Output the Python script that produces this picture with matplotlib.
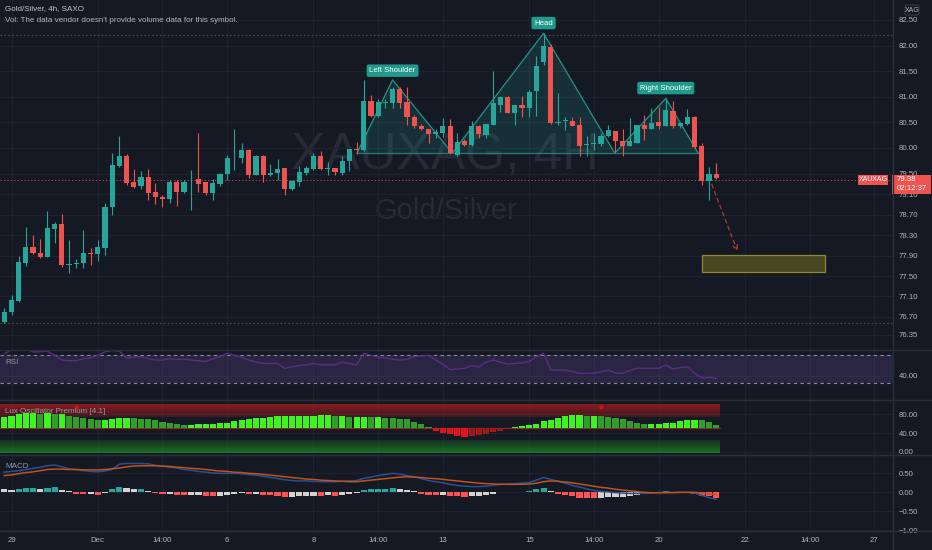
import matplotlib
matplotlib.use("Agg")
import matplotlib.pyplot as plt
from matplotlib.patches import Rectangle, Polygon, FancyBboxPatch
from matplotlib import font_manager
import numpy as np

# ---------------- data ----------------
opens = [76.60, 76.79, 77.02, 77.76, 78.07, 77.95, 77.88, 78.41, 78.51, 77.72,
         77.73, 77.75, 77.95, 77.93, 78.05, 78.85, 79.64, 79.84, 79.34, 79.25,
         79.44, 79.14, 79.05, 79.00, 79.33, 79.15, 79.33, 79.39, 79.33, 79.13,
         79.30, 79.49, 79.80, 79.80, 79.96, 79.47, 79.84, 79.47, 79.51, 79.60,
         79.20, 79.34, 79.52, 79.59, 79.84, 79.58, 79.60, 79.52, 79.75, 79.99,
         79.96, 80.92, 80.62, 80.87, 80.87, 81.16, 80.90, 80.60, 80.43, 80.38,
         80.27, 80.30, 80.43, 79.86, 80.13, 80.05, 80.43, 80.25, 80.45, 80.84,
         81.00, 80.69, 80.83, 80.79, 81.11, 81.67, 81.98, 80.48, 80.53, 80.53,
         80.45, 80.06, 80.07, 80.08, 80.24, 80.34, 80.14, 80.04, 80.10, 80.45,
         80.38, 80.51, 80.43, 80.73, 80.42, 80.47, 80.61, 80.03, 79.36, 79.49]
highs = [76.87, 77.13, 77.90, 78.45, 78.30, 78.22, 78.77, 78.56, 78.71, 78.20,
         77.83, 78.40, 78.05, 78.20, 78.93, 79.90, 80.23, 79.88, 79.58, 79.56,
         79.59, 79.31, 79.08, 79.38, 79.38, 79.38, 79.57, 80.29, 79.33, 79.39,
         79.52, 79.86, 80.38, 80.09, 79.99, 79.86, 79.86, 79.69, 79.79, 79.60,
         79.37, 79.65, 79.65, 79.90, 79.95, 79.73, 79.60, 79.84, 79.99, 80.12,
         81.32, 81.04, 80.95, 80.95, 81.19, 81.19, 81.19, 80.65, 80.47, 80.38,
         80.38, 80.58, 80.56, 80.29, 80.17, 80.53, 80.45, 80.47, 81.51, 81.02,
         81.02, 80.84, 81.02, 81.13, 81.80, 82.24, 82.04, 81.07, 80.60, 80.60,
         80.61, 80.23, 80.29, 80.29, 80.45, 80.34, 80.38, 80.58, 80.45, 80.64,
         80.79, 80.81, 80.95, 80.92, 80.48, 80.76, 80.62, 80.09, 79.62, 79.71]
lows = [76.58, 76.73, 77.00, 77.70, 77.93, 77.85, 77.88, 78.14, 77.68, 77.55,
        77.65, 77.65, 77.71, 77.80, 77.91, 78.69, 79.62, 79.28, 79.21, 79.19,
        78.99, 78.91, 78.85, 78.92, 78.87, 79.13, 78.78, 79.15, 79.08, 78.98,
        79.26, 79.38, 79.57, 79.70, 79.41, 79.47, 79.34, 79.45, 79.38, 79.08,
        79.18, 79.26, 79.47, 79.57, 79.57, 79.47, 79.47, 79.47, 79.56, 79.88,
        79.95, 80.61, 80.60, 80.78, 80.78, 80.78, 80.45, 80.40, 80.35, 80.09,
        80.19, 80.21, 79.88, 79.84, 80.03, 80.03, 80.19, 80.19, 80.44, 80.71,
        80.68, 80.45, 80.61, 80.61, 80.62, 81.62, 80.47, 80.45, 80.35, 80.42,
        79.84, 79.84, 79.97, 80.03, 80.22, 79.93, 79.84, 80.03, 80.09, 80.16,
        80.37, 80.37, 80.42, 80.40, 80.40, 80.45, 80.00, 79.28, 78.98, 79.39]
closes = [76.80, 77.03, 77.77, 78.06, 77.94, 77.87, 78.43, 78.51, 77.72, 77.74,
          77.76, 77.94, 77.92, 78.07, 78.85, 79.66, 79.84, 79.31, 79.23, 79.44,
          79.12, 79.05, 79.00, 79.33, 79.14, 79.33, 79.34, 79.30, 79.12, 79.31,
          79.49, 79.81, 79.81, 79.97, 79.47, 79.85, 79.47, 79.52, 79.59, 79.20,
          79.36, 79.54, 79.60, 79.85, 79.58, 79.60, 79.53, 79.75, 79.99, 79.96,
          80.91, 80.63, 80.89, 80.90, 81.15, 80.87, 80.60, 80.42, 80.38, 80.27,
          80.32, 80.43, 79.90, 80.12, 80.05, 80.42, 80.27, 80.47, 80.87, 80.99,
          80.69, 80.83, 80.79, 81.10, 81.60, 82.00, 80.48, 80.50, 80.54, 80.43,
          80.04, 80.08, 80.09, 80.24, 80.35, 80.14, 80.04, 80.14, 80.45, 80.37,
          80.49, 80.43, 80.74, 80.42, 80.48, 80.61, 80.01, 79.36, 79.49, 79.41]
current_price = 79.38

rsi = [72, 78, 80, 80, 75, 75, 76, 70, 63, 62,
       62, 65, 66, 70, 75, 77, 76, 66, 67, 68,
       65, 63, 63, 65, 64, 64, 63, 62, 61, 65,
       68, 73, 70, 67, 63, 60, 58, 58, 58, 51,
       53, 55, 56, 58, 56, 56, 56, 60, 58, 56,
       73, 70, 67, 66, 64, 63, 64, 68, 69, 70,
       63, 57, 49, 50, 51, 55, 53, 60, 63, 60,
       57, 58, 59, 61, 68, 73, 48.5, 48.5, 48.5, 46,
       43.7, 43.7, 43.7, 46, 48.5, 44, 43.7, 48, 51, 51,
       51, 51, 55.8, 50, 52, 53, 44, 37, 37.8, 36.4]

lux = [75, 77, 80, 82, 82, 80.5, 82, 80.5, 80.5, 77,
       75, 71, 70, 67, 67, 70, 72.6, 73, 72, 70.6,
       70, 67, 63, 60.7, 58.5, 57, 57.8, 59, 59, 59,
       60.7, 62, 65, 67, 70, 71.4, 72.6, 74, 76, 76,
       76, 76, 76, 76, 77.5, 77.5, 76, 76, 75, 75,
       75, 74, 74, 73, 72.6, 70.5, 69, 64, 58.5, 53.5,
       45, 39.7, 37.6, 34.6, 32.5, 34.6, 36, 39, 42, 45,
       48, 52.4, 54.6, 57, 60, 65, 68.6, 72.6, 76, 77.5,
       77.5, 77, 77, 76, 75, 72, 70, 65, 60.7, 59,
       59, 59, 61.5, 62, 65, 68.6, 68.6, 67, 63, 58]
lux_dots_idx = [10, 83]
lux_dots_val = [96, 96]

macd = [0.53, 0.55, 0.57, 0.60, 0.63, 0.66, 0.70, 0.72, 0.67, 0.62,
        0.60, 0.57, 0.55, 0.54, 0.56, 0.60, 0.74, 0.76, 0.76, 0.76,
        0.75, 0.71, 0.69, 0.66, 0.64, 0.60, 0.58, 0.55, 0.53, 0.51,
        0.50, 0.50, 0.50, 0.49, 0.47, 0.45, 0.42, 0.39, 0.36, 0.33,
        0.31, 0.30, 0.30, 0.29, 0.28, 0.28, 0.28, 0.29, 0.30, 0.31,
        0.37, 0.40, 0.44, 0.47, 0.50, 0.48, 0.44, 0.41, 0.36, 0.31,
        0.28, 0.25, 0.21, 0.18, 0.165, 0.15, 0.15, 0.16, 0.19, 0.21,
        0.22, 0.23, 0.24, 0.26, 0.32, 0.39, 0.34, 0.29, 0.24, 0.18,
        0.14, 0.09, 0.05, 0.02, 0.01, -0.01, -0.02, -0.03, -0.03, -0.03,
        -0.02, -0.01, 0.00, 0.00, 0.00, 0.00, -0.02, -0.08, -0.14, -0.18]
signal = [0.44, 0.46, 0.49, 0.52, 0.54, 0.57, 0.60, 0.61, 0.61, 0.60,
          0.60, 0.59, 0.59, 0.59, 0.60, 0.62, 0.64, 0.67, 0.69, 0.70,
          0.70, 0.70, 0.69, 0.68, 0.66, 0.65, 0.63, 0.62, 0.60, 0.58,
          0.56, 0.55, 0.53, 0.52, 0.50, 0.49, 0.47, 0.45, 0.43, 0.41,
          0.39, 0.37, 0.35, 0.34, 0.32, 0.31, 0.30, 0.29, 0.28, 0.28,
          0.30, 0.32, 0.34, 0.36, 0.38, 0.40, 0.41, 0.40, 0.39, 0.37,
          0.36, 0.34, 0.32, 0.30, 0.28, 0.26, 0.24, 0.23, 0.22, 0.21,
          0.21, 0.21, 0.21, 0.22, 0.24, 0.28, 0.30, 0.29, 0.27, 0.25,
          0.22, 0.19, 0.16, 0.13, 0.11, 0.08, 0.06, 0.04, 0.02, 0.00,
          -0.01, -0.01, -0.01, -0.01, 0.00, 0.00, 0.00, -0.02, -0.04, -0.06]
hist = [0.08, 0.06, 0.10, 0.11, 0.11, 0.10, 0.11, 0.13, 0.07, 0.03,
        -0.04, -0.045, -0.045, -0.07, -0.01, 0.08, 0.13, 0.11, 0.09, 0.09,
        0.045, -0.02, -0.045, -0.045, -0.06, -0.08, -0.08, -0.08, -0.10, -0.105,
        -0.10, -0.06, -0.045, -0.03, -0.045, -0.045, -0.06, -0.08, -0.09, -0.12,
        -0.12, -0.11, -0.10, -0.09, -0.095, -0.08, -0.10, -0.08, -0.045, -0.03,
        0.06, 0.09, 0.10, 0.10, 0.12, 0.09, 0.06, 0.03, -0.04, -0.06,
        -0.08, -0.08, -0.10, -0.11, -0.12, -0.10, -0.10, -0.08, -0.045, 0.02,
        0.02, 0.02, 0.02, 0.04, 0.08, 0.11, 0.04, -0.04, -0.07, -0.09,
        -0.14, -0.145, -0.15, -0.145, -0.13, -0.125, -0.12, -0.11, -0.06, -0.03,
        -0.01, 0.005, 0.03, 0.02, 0.01, 0.02, -0.04, -0.09, -0.11, -0.14]

# head & shoulders pattern vertices (bar index, price)
pattern_idx = [49.05, 54.0, 62.3, 75.0, 84.9, 92.0, 96.5]
pattern_price = [79.90, 81.33, 79.90, 82.24, 79.90, 80.97, 79.90]
pattern_labels = ['Left Shoulder', 'Head', 'Right Shoulder']
pattern_label_idx = [54.0, 75.0, 92.0]
pattern_label_price = [81.51, 82.44, 81.17]
target_from = (98.25, 79.34)
target_to = (102.1, 77.94)
target_box = (97.0, 114.1, 77.57, 77.91)
level_lines = [82.21, 76.58]

price_ticks = [82.50, 82.00, 81.50, 81.00, 80.50, 80.00, 79.50, 79.10,
               78.70, 78.30, 77.90, 77.50, 77.10, 76.70, 76.35]
time_tick_idx = [1, 13, 22, 31, 43, 52, 61, 73, 82, 91, 103, 112, 121]
time_tick_labels = ['29', 'Dec', '14:00', '6', '8', '14:00', '13', '15',
                    '14:00', '20', '22', '14:00', '27']

# ---------------- style ----------------
W, H = 932, 550
BG = '#151924'
GRID = '#1e2230'
SEP = '#2a2e39'
TXT = '#b2b5be'
UP = '#26a69a'
DN = '#ef5350'

names = {f.name for f in font_manager.fontManager.ttflist}
plt.rcParams['font.family'] = ['Liberation Sans', 'DejaVu Sans']
narrow = 'Liberation Sans Narrow' in names

fig = plt.figure(figsize=(W / 100, H / 100), dpi=100, facecolor=BG)
AXW = 893 / W


def add_ax(top, bottom):
    a = fig.add_axes([0, 1 - bottom / H, AXW, (bottom - top) / H], facecolor=BG)
    for s in a.spines.values():
        s.set_visible(False)
    a.set_axisbelow(True)
    a.yaxis.tick_right()
    a.set_xlim(-0.6, 123.6)
    a.set_xticks(time_tick_idx)
    a.tick_params(axis='x', length=0, labelbottom=False)
    a.tick_params(axis='y', length=0, pad=4, labelsize=5.6, labelcolor=TXT)
    a.grid(True, color=GRID, lw=0.8)
    return a


ax = add_ax(0, 350)
ax_rsi = add_ax(350, 400)
ax_lux = add_ax(400, 455)
ax_macd = add_ax(455, 531)

n = len(closes)
x = np.arange(n)
o = np.array(opens); c = np.array(closes); hi = np.array(highs); lo = np.array(lows)

# ---------------- main pane ----------------
ax.set_ylim(76.055, 82.89)
ax.set_yticks(price_ticks)
ax.set_yticklabels([f'{t:.2f}' for t in price_ticks])

ax.text(445 / 893, 1 - 170 / 350, 'XAUXAG, 4H', transform=ax.transAxes,
        ha='center', va='baseline', color='#272b37',
        fontsize=44 if narrow else 37,
        family='Liberation Sans Narrow' if narrow else 'Liberation Sans', zorder=0)
ax.text(446 / 893, 1 - 219 / 350, 'Gold/Silver', transform=ax.transAxes,
        ha='center', va='baseline', color='#272b37', fontsize=21, zorder=0)

for lv in level_lines:
    ax.axhline(lv, color='#4a4e5a', lw=0.8, ls=(0, (1.5, 2)), zorder=1)
ax.axhline(current_price, color=DN, lw=0.7, ls=(0, (1.5, 2)), alpha=0.7, zorder=1)

# pattern
pts = list(zip(pattern_idx, pattern_price))
ax.add_patch(Polygon(pts, closed=True, fc=UP, alpha=0.17, ec='none', zorder=2))
ax.plot(pattern_idx, pattern_price, color=UP, lw=0.9, alpha=0.85, zorder=2)
ax.plot([pattern_idx[0], pattern_idx[-1]], [pattern_price[0], pattern_price[-1]],
        color=UP, lw=0.9, alpha=0.7, zorder=2)

cols = [UP if cc >= oo else DN for oo, cc in zip(opens, closes)]
ax.vlines(x, lo, hi, colors=cols, lw=0.8, zorder=3)
ax.bar(x, np.maximum(np.abs(c - o), 0.012), bottom=np.minimum(o, c), width=0.72,
       color=cols, lw=0, zorder=4)

for lab, li, lp in zip(pattern_labels, pattern_label_idx, pattern_label_price):
    ax.text(li, lp, lab, ha='center', va='center', fontsize=5.6, color='white',
            zorder=6, bbox=dict(boxstyle='round,pad=0.35,rounding_size=0.25',
                                fc='#1f9a8b', ec='none'))

x0, x1, y0, y1 = target_box
ax.add_patch(Rectangle((x0, y0), x1 - x0, y1 - y0, fc='#47471f', ec='#8a8a38',
                       lw=0.9, zorder=5))
ax.annotate('', xy=target_to, xytext=target_from, zorder=6,
            arrowprops=dict(arrowstyle='->', color='#b23a3a', lw=0.9,
                            linestyle=(0, (3, 3)), mutation_scale=8))

# ---------------- RSI ----------------
ax_rsi.set_ylim(4.7, 77.7)
ax_rsi.set_yticks([40])
ax_rsi.set_yticklabels(['40.00'])
ax_rsi.fill_between([-0.6, 123.6], 30, 70, color='#7e57c2', alpha=0.2, lw=0)
for lv in (70, 30):
    ax_rsi.axhline(lv, color='#8a8d97', lw=0.8, ls=(0, (3, 3)))
ax_rsi.plot(x, rsi, color='#5d2c84', lw=1.0)

# ---------------- Lux oscillator ----------------
ax_lux.set_ylim(-6.4, 110.2)
ax_lux.set_yticks([80, 40, 0])
ax_lux.set_yticklabels(['80.00', '40.00', '0.00'])
xb = [-0.6, n - 0.5]
steps = 14
for k in range(steps):
    a0 = 101 - 26 * k / steps
    a1 = 101 - 26 * (k + 1) / steps
    ax_lux.fill_between(xb, a1, a0, color='#b01c1c', alpha=0.72 - 0.45 * k / steps, lw=0)
for k in range(steps):
    b0 = 26 - 29 * k / steps
    b1 = 26 - 29 * (k + 1) / steps
    ax_lux.fill_between(xb, b1, b0, color='#1e9a24', alpha=0.2 + 0.5 * k / steps, lw=0)
lux_cols = []
for i, v in enumerate(lux):
    prev = lux[i - 1] if i > 0 else v
    if v >= 50:
        lux_cols.append('#3df41f' if v >= prev else '#2f9e2a')
    else:
        lux_cols.append('#e0141a' if v <= prev else '#a31616')
lux_arr = np.array(lux)
ax_lux.bar(x, lux_arr - 50, bottom=50, width=0.85, color=lux_cols, lw=0, zorder=3)
ax_lux.plot(xb, [50, 50], color='#8a2a1a', lw=0.9, zorder=2)
ax_lux.scatter(lux_dots_idx, lux_dots_val, s=9, color='#d01414', zorder=4, lw=0)

# ---------------- MACD ----------------
ax_macd.set_ylim(-1.018, 0.982)
ax_macd.set_yticks([0.5, 0.0, -0.5, -1.0])
ax_macd.set_yticklabels(['0.50', '0.00', '\u22120.50', '\u22121.00'])
hcols = []
for i, v in enumerate(hist):
    prev = hist[i - 1] if i > 0 else v + 0.01
    if v >= 0:
        hcols.append('#26a69a' if v >= prev else '#d6d2d2')
    else:
        hcols.append('#d6d2d2' if v >= prev else '#ff5252')
ax_macd.bar(x, hist, width=0.85, color=hcols, lw=0, zorder=3)
ax_macd.plot(x, macd, color='#2b4f93', lw=1.1, zorder=4)
ax_macd.plot(x, signal, color='#c0521c', lw=1.1, zorder=4)
ax_macd.set_xticklabels(time_tick_labels)
ax_macd.tick_params(axis='x', labelbottom=True, pad=4, labelsize=5.6, labelcolor=TXT)

# ---------------- overlay (legends, separators, tags) ----------------
ov = fig.add_axes([0, 0, 1, 1], facecolor='none', zorder=10)
ov.set_xlim(0, W); ov.set_ylim(H, 0); ov.axis('off')
for yy in (350, 400, 455, 531):
    ov.plot([0, W], [yy, yy], color=SEP, lw=1.0)
ov.plot([892.5, 892.5], [0, H], color=SEP, lw=1.0)

ov.text(5, 9, 'Gold/Silver, 4h, SAXO', fontsize=5.8, color='#c3c6ce', va='center')
ov.text(5, 21, "Vol: The data vendor doesn't provide volume data for this symbol.",
        fontsize=5.8, color=TXT, va='center')
ov.text(5, 362, 'RSI', fontsize=5.8, color='#9598a1', va='center')
ov.text(5, 411.5, 'Lux Oscillator Premium [4.1]', fontsize=5.8, color='#9598a1', va='center')
ov.text(5, 466, 'MACD', fontsize=5.8, color='#9598a1', va='center')

ov.add_patch(FancyBboxPatch((905, 5), 14, 10, boxstyle='round,pad=0,rounding_size=2',
                            fc=BG, ec='#363a45', lw=0.8))
ov.text(912, 10, 'XAG', fontsize=5, color=TXT, ha='center', va='center')

fig.canvas.draw()
y_cur = H - ax.transData.transform((0, current_price))[1]
ov.add_patch(Rectangle((858, y_cur - 5), 30, 10, fc=DN, ec='none'))
ov.text(873, y_cur, 'XAUXAG', fontsize=5, color='white', ha='center', va='center')
ov.add_patch(Rectangle((892, y_cur - 5), 39, 19, fc=DN, ec='none'))
ov.text(897, y_cur, f'{current_price:.2f}', fontsize=5.6, color='white', ha='left', va='center')
ov.text(897, y_cur + 9, '02:12:37', fontsize=5.6, color='white', ha='left', va='center')

fig.savefig('out.png', dpi=100, facecolor=BG)
